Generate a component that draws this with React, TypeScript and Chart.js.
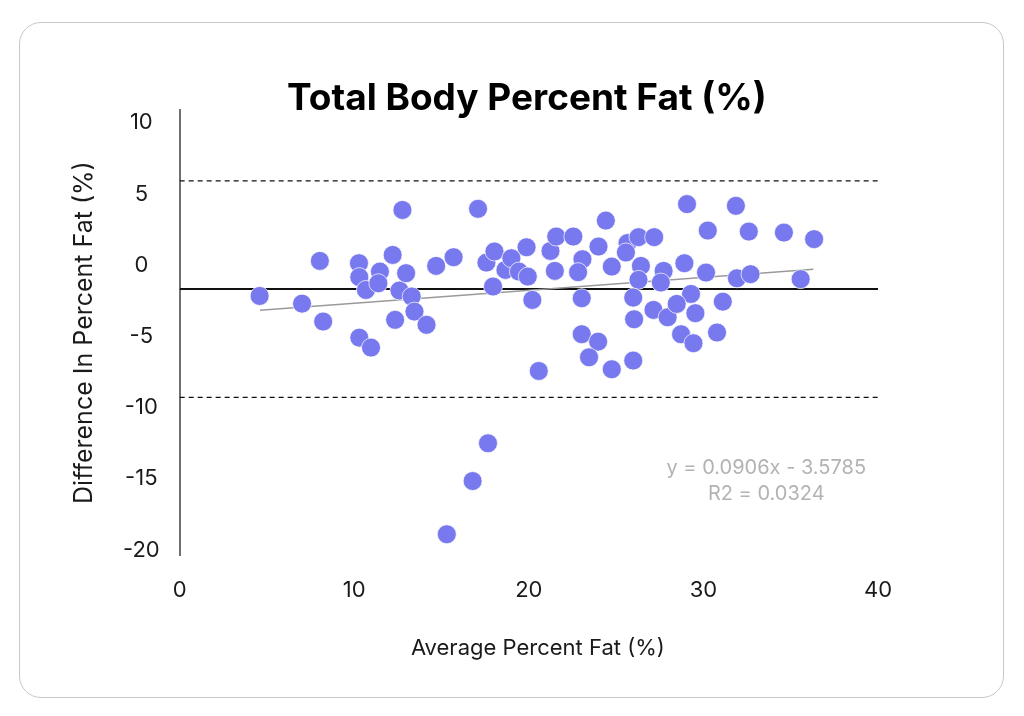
import { useEffect, useRef } from 'react';
import { Chart, registerables } from 'chart.js';

Chart.register(...registerables);

const chartTitle = 'Total Body Percent Fat (%)';
const xAxisTitle = 'Average Percent Fat (%)';
const yAxisTitle = 'Difference In Percent Fat (%)';
const equationLines = ['y = 0.0906x - 3.5785', 'R2 = 0.0324'];

const avgFat = [
  4.58, 7.01, 8.03, 8.22, 10.27, 10.29, 10.67, 10.29, 10.96, 11.47,
  11.38, 12.2, 12.76, 12.59, 12.34, 12.97, 13.29, 13.45, 14.14, 14.69,
  15.69, 17.09, 17.57, 18.03, 17.95, 18.66, 19.0, 19.43, 19.94, 19.87,
  20.2, 20.57, 21.24, 21.57, 21.49, 22.55, 23.07, 22.82, 23.03, 23.03,
  23.99, 24.41, 24.75, 23.97, 23.45, 24.75, 25.65, 25.56, 26.28, 27.18,
  26.42, 26.28, 25.98, 26.03, 25.98, 27.72, 27.56, 27.14, 27.95, 28.91,
  29.06, 29.29, 28.47, 29.54, 28.72, 29.43, 30.15, 30.25, 31.11, 30.78,
  31.86, 32.6, 31.92, 32.7, 34.61, 35.57, 36.34, 17.66, 16.78, 15.3,
];
const diffFat = [
  -2.16, -2.7, 0.3, -3.96, 0.14, -0.84, -1.74, -5.09, -5.79, -0.45,
  -1.27, 0.72, 3.88, -1.78, -3.84, -0.56, -2.2, -3.26, -4.19, -0.05,
  0.56, 3.96, 0.18, 0.96, -1.5, -0.33, 0.49, -0.45, -0.8, 1.26,
  -2.44, -7.43, 1.0, 2.01, -0.4, 2.01, 0.42, -0.49, -2.32, -4.85,
  1.31, 3.13, -0.1, -5.37, -6.47, -7.31, 1.55, 0.89, 1.97, 1.97,
  -0.05, -1.03, -2.28, -3.8, -6.7, -0.4, -1.22, -3.14, -3.66, 0.14,
  4.29, -2.02, -2.72, -3.37, -4.85, -5.48, -0.52, 2.43, -2.56, -4.73,
  4.17, 2.36, -0.92, -0.63, 2.29, -0.98, 1.83, -12.51, -15.16, -18.9,
];

const limitX = [0, 40];
const meanDiff = [-1.68, -1.68];
const upperLimit = [5.92, 5.92];
const lowerLimit = [-9.28, -9.28];
const trendX = [4.6, 36.3];
const trendY = [-3.16, -0.29];

const xMin = 0;
const xMax = 40;
const xStep = 10;
const yMin = -20.37;
const yMax = 10.9;
const yStep = 5;

const FONT = 'Inter, "Noto Sans", sans-serif';

const toPoints = (xs: number[], ys: number[]) => xs.map((x, i) => ({ x, y: ys[i] }));

const textPlugin = {
  id: 'customText',
  afterDraw(chart: any) {
    const { ctx, chartArea } = chart;
    const xScale = chart.scales.x;
    ctx.save();
    ctx.textAlign = 'center';
    ctx.textBaseline = 'middle';

    ctx.fillStyle = '#000000';
    ctx.font = `700 37px ${FONT}`;
    ctx.fillText(chartTitle, (chartArea.left + chartArea.right) / 2 - 2, chartArea.top - 11);

    ctx.fillStyle = '#1a1a1a';
    ctx.font = `400 22px ${FONT}`;
    ctx.fillText(xAxisTitle, (chartArea.left + chartArea.right) / 2 + 9, xScale.bottom - 26 - 13);

    ctx.fillStyle = '#b3b3b3';
    ctx.font = `400 20px ${FONT}`;
    const ex = chartArea.left + (chartArea.right - chartArea.left) * 0.84;
    const ey = chartArea.top + (chartArea.bottom - chartArea.top) * 0.804;
    ctx.fillText(equationLines[0], ex, ey);
    ctx.fillText(equationLines[1], ex, ey + 26);
    ctx.restore();
  },
};

export default function App() {
  const canvasRef = useRef<HTMLCanvasElement | null>(null);

  useEffect(() => {
    if (!canvasRef.current) return;
    const chart = new Chart(canvasRef.current, {
      type: 'scatter',
      data: {
        datasets: [
          {
            label: 'Difference',
            data: toPoints(avgFat, diffFat),
            backgroundColor: '#7879ee',
            borderColor: 'rgba(255,255,255,0.7)',
            borderWidth: 1,
            pointRadius: 9.5,
            order: 0,
          },
          {
            label: 'Mean',
            type: 'line',
            data: toPoints(limitX, meanDiff),
            borderColor: '#111111',
            borderWidth: 2,
            pointRadius: 0,
            order: 2,
          },
          {
            label: 'Upper',
            type: 'line',
            data: toPoints(limitX, upperLimit),
            borderColor: '#111111',
            borderWidth: 1.2,
            borderDash: [5, 4],
            pointRadius: 0,
            order: 2,
          },
          {
            label: 'Lower',
            type: 'line',
            data: toPoints(limitX, lowerLimit),
            borderColor: '#111111',
            borderWidth: 1.2,
            borderDash: [5, 4],
            pointRadius: 0,
            order: 2,
          },
          {
            label: 'Trend',
            type: 'line',
            data: toPoints(trendX, trendY),
            borderColor: '#9a9a9a',
            borderWidth: 1.5,
            pointRadius: 0,
            order: 1,
          },
        ],
      },
      options: {
        animation: false,
        responsive: true,
        maintainAspectRatio: false,
        layout: { padding: { left: 20, right: 125, top: 87, bottom: 10 } },
        plugins: {
          legend: { display: false },
          tooltip: { enabled: false },
          title: { display: false },
        },
        scales: {
          x: {
            type: 'linear',
            min: xMin,
            max: xMax,
            ticks: {
              stepSize: xStep,
              padding: 22,
              color: '#1a1a1a',
              font: { family: FONT, size: 22 },
            },
            grid: { display: false, drawTicks: false },
            border: { display: false },
            title: {
              display: true,
              text: xAxisTitle,
              color: 'rgba(0,0,0,0)',
              font: { family: FONT, size: 22 },
              padding: { top: 9, bottom: 26 },
            },
          },
          y: {
            type: 'linear',
            min: yMin,
            max: yMax,
            ticks: {
              stepSize: yStep,
              includeBounds: false,
              padding: 20,
              crossAlign: 'center',
              color: '#1a1a1a',
              font: { family: FONT, size: 22 },
            },
            grid: { display: false, drawTicks: false },
            border: { display: true, color: '#707070', width: 2 },
            title: {
              display: true,
              text: yAxisTitle,
              color: '#1a1a1a',
              font: { family: FONT, size: 25 },
              padding: { top: 29, bottom: 4 },
            },
          },
        },
      },
      plugins: [textPlugin],
    } as any);
    return () => chart.destroy();
  }, []);

  return (
    <div style={{ paddingLeft: 11, paddingTop: 14 }}>
      <div
        style={{
          width: 983,
          height: 674,
          border: '1px solid #c8c8c8',
          borderRadius: 22,
          position: 'relative',
          background: '#ffffff',
        }}
      >
        <canvas ref={canvasRef} style={{ width: '100%', height: '100%' }} />
      </div>
    </div>
  );
}
